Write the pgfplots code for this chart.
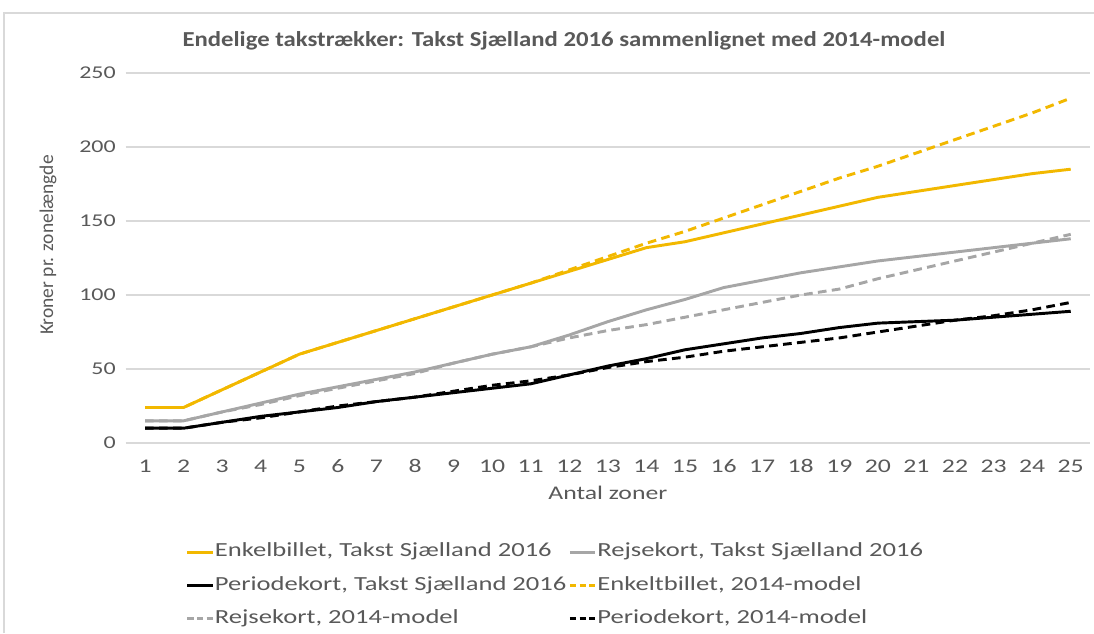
\documentclass[border=0pt]{standalone}
\usepackage{pgfplots}
\pgfplotsset{compat=1.18}
\usepackage{pgfplotstable}
\usepackage{fontspec}
\setmainfont{Carlito}[FakeStretch=1.33]
\newfontfamily\ylabfont{Carlito}
\newfontfamily\titlefont{Carlito}[FakeStretch=1.16]
\definecolor{cyel}{RGB}{242,184,0}
\definecolor{cgray}{RGB}{166,166,166}
\definecolor{ctxt}{RGB}{89,89,89}
\definecolor{cgrid}{RGB}{217,217,217}

\pgfplotstableread{
z  e16 r16 p16 e14 r14 p14
1  24  15  10  24  15  10
2  24  15  10  24  15  10
3  36  21  14  36  21  14
4  48  27  18  48  26  17
5  60  33  21  60  32  21
6  68  38  24  68  37  25
7  76  43  28  76  42  28
8  84  48  31  84  47  31
9  92  54  34  92  54  35
10 100 60  37  100 60  39
11 108 65  40  108 65  42
12 116 73  46  117 71  46
13 124 82  52  126 76  51
14 132 90  57  135 80  55
15 136 97  63  143 85  58
16 142 105 67  152 90  62
17 148 110 71  161 95  65
18 154 115 74  170 100 68
19 160 119 78  179 104 71
20 166 123 81  187 111 75
21 170 126 82  196 117 79
22 174 129 83  205 123 83
23 178 132 85  214 129 86
24 182 135 87  223 135 90
25 185 138 89  233 141 95
}\data

\begin{document}
\begin{tikzpicture}
\begin{axis}[
  at={(0,0)}, anchor=south west,
  scale only axis,
  width=723.2pt, height=277.5pt,
  xmin=0.5, xmax=25.5, ymin=0, ymax=250,
  xtick={1,...,25}, ytick={0,50,...,250},
  axis line style={draw=none},
  tick style={draw=none},
  ymajorgrids, major grid style={cgrid, line width=0.9pt},
  /pgf/number format/assume math mode=true,
  ticklabel style={font=\fontsize{14.5}{16}\selectfont, text=ctxt},
  yticklabel style={font=\fontsize{13.5}{16}\selectfont},
  xticklabel shift=9pt,
  yticklabel shift=4pt,
  xlabel={Antal zoner},
  xlabel style={font=\fontsize{14.5}{16}\selectfont, text=ctxt, at={(axis description cs:0.5,-0.136)}, anchor=center},
  ylabel={\ylabfont Kroner pr. zonelængde},
  ylabel style={font=\fontsize{14.6}{16}\selectfont, text=ctxt, at={(axis description cs:-0.0806,0.535)}, anchor=center, rotate=0},
  title={\titlefont\bfseries Endelige takstrækker: Takst Sjælland 2016 sammenlignet med 2014-model},
  title style={font=\fontsize{16}{18}\selectfont, text=ctxt, at={(axis description cs:0.4545,1.065)}, anchor=center},
  legend columns=2,
  legend cell align=left,
  legend style={at={(axis description cs:0.058,-0.262)}, anchor=north west, draw=none, fill=none,
    font=\fontsize{15}{17}\selectfont, text=ctxt, row sep=11pt,
    /tikz/every even column/.append style={column sep=1pt},
    nodes={inner sep=0.5pt, text height=10pt, text depth=3pt}},
  legend image code/.code={\draw[#1] (0pt,0pt) -- (19pt,0pt);},
  every axis plot/.append style={line width=2.2pt, line join=round},
]
\addplot[cyel] table[x=z,y=e16]{\data};
\addlegendentry{Enkelbillet, Takst Sjælland 2016}
\addplot[cgray] table[x=z,y=r16]{\data};
\addlegendentry{Rejsekort, Takst Sjælland 2016}
\addplot[black] table[x=z,y=p16]{\data};
\addlegendentry{Periodekort, Takst Sjælland 2016}
\addplot[cyel, dash pattern=on 6.5pt off 4pt, legend image post style={dash pattern=on 4.6pt off 2.6pt}] table[x=z,y=e14]{\data};
\addlegendentry{Enkeltbillet, 2014-model}
\addplot[cgray, dash pattern=on 6.5pt off 4pt, legend image post style={dash pattern=on 4.6pt off 2.6pt}] table[x=z,y=r14]{\data};
\addlegendentry{Rejsekort, 2014-model}
\addplot[black, dash pattern=on 6.5pt off 4pt, legend image post style={dash pattern=on 4.6pt off 2.6pt}] table[x=z,y=p14]{\data};
\addlegendentry{Periodekort, 2014-model}
\end{axis}
\draw[cgrid, line width=0.8pt] (-91.3pt,-142.5pt) -- (-91.3pt,322.5pt) -- (726.2pt,322.5pt);
\pgfresetboundingbox
\useasboundingbox (-94.3pt,-142.5pt) rectangle (726.2pt,332.25pt);
\end{tikzpicture}
\end{document}
